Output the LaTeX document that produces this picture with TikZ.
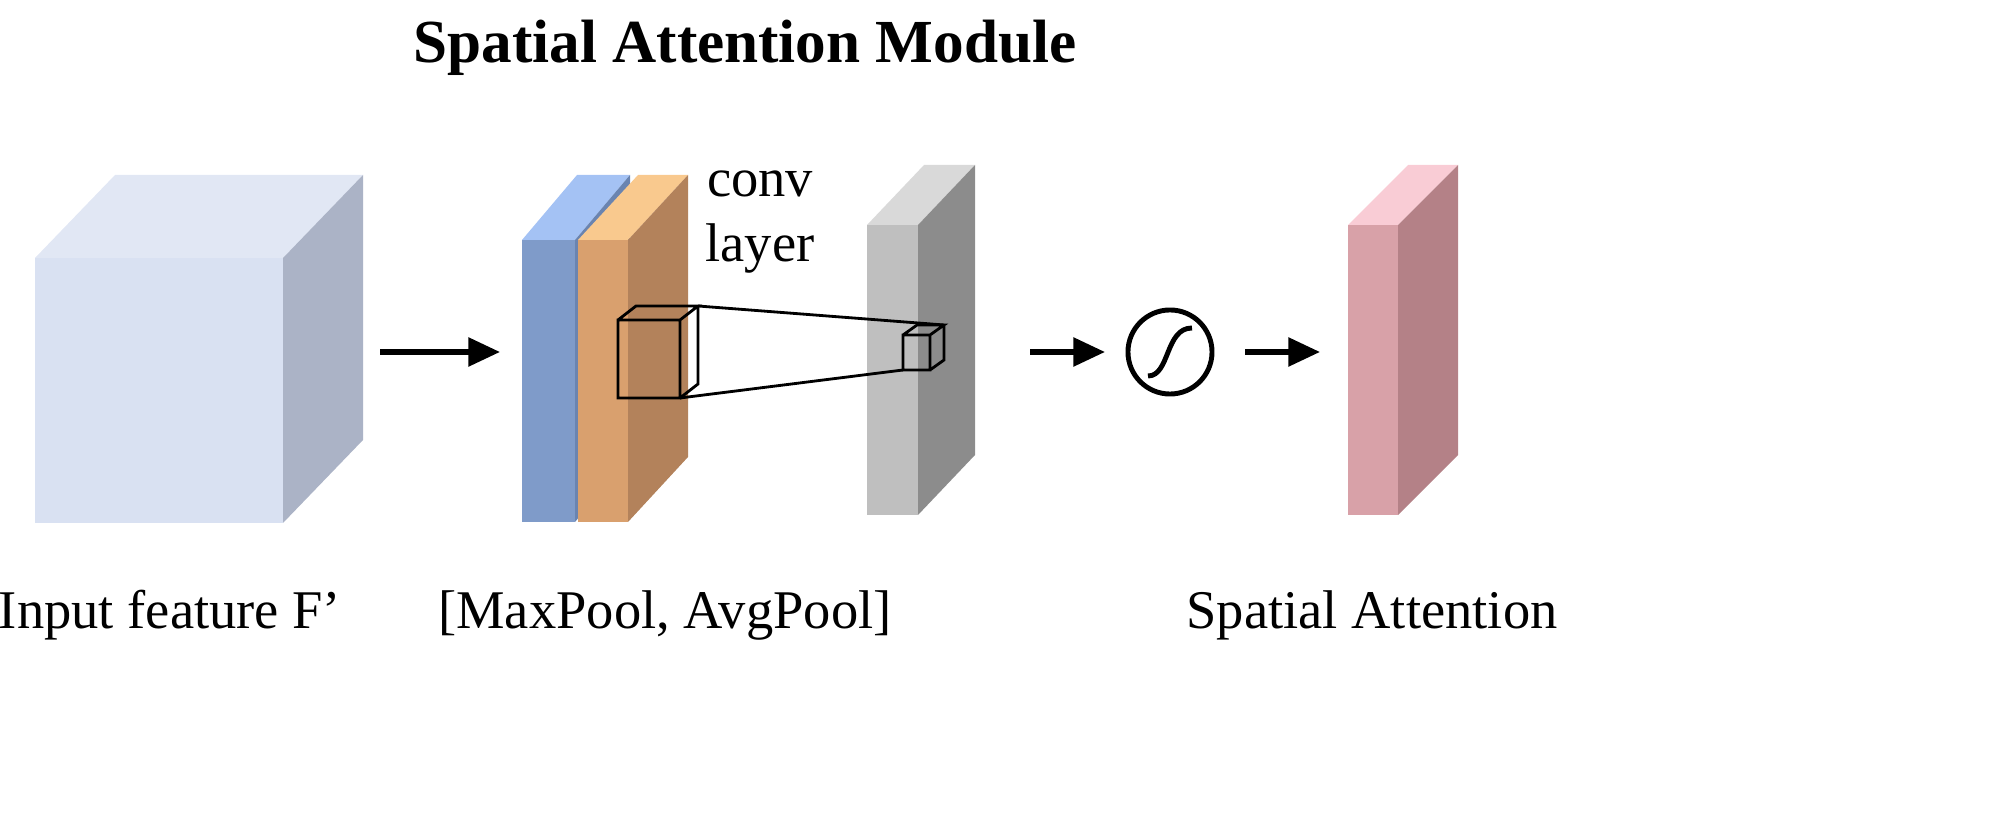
\documentclass[tikz,border=0pt]{standalone}
\usepackage{fontspec}
\setmainfont{Liberation Serif}
\usetikzlibrary{arrows.meta}
\definecolor{cubeF}{HTML}{D9E1F2}\definecolor{cubeT}{HTML}{E1E7F4}\definecolor{cubeS}{HTML}{ABB3C6}
\definecolor{bluF}{HTML}{7F9BC9}\definecolor{bluT}{HTML}{A4C2F4}\definecolor{bluS}{HTML}{6A84B0}
\definecolor{orF}{HTML}{D9A06E}\definecolor{orT}{HTML}{F9C98E}\definecolor{orS}{HTML}{B3825B}
\definecolor{grF}{HTML}{BFBFBF}\definecolor{grT}{HTML}{D9D9D9}\definecolor{grS}{HTML}{8C8C8C}
\definecolor{pkF}{HTML}{D8A1A8}\definecolor{pkT}{HTML}{F9CCD5}\definecolor{pkS}{HTML}{B48187}
\tikzset{arr/.style={-{Stealth[length=9pt,width=8pt,inset=0pt]},line width=1.5pt},
 lbl/.style={font=\fontsize{15.5}{18.5}\selectfont,inner sep=0},
 edge/.style={line width=0.8pt}}
\newcommand{\slab}[9]{% x1 x2 ytop ybot dx dy top front side
 \fill[#7] (#1,#3) -- (#1+#5,#3-#6) -- (#2+#5,#3-#6) -- (#2,#3) -- cycle;
 \fill[#9] (#2,#3) -- (#2+#5,#3-#6) -- (#2+#5,#4-#6) -- (#2,#4) -- cycle;
 \fill[#8] (#1,#3) rectangle (#2,#4);}
\begin{document}
\begin{tikzpicture}[x=0.01cm,y=-0.01cm]
\useasboundingbox (0,0) rectangle (2005,816);
\node[font=\fontsize{17.4}{21}\selectfont\bfseries] (title) at (745,48) {Spatial Attention Module};
% input cube
\slab{35}{283}{258}{523}{80}{83}{cubeT}{cubeF}{cubeS}
% blue & orange
\slab{522}{575}{240}{522}{55}{65}{bluT}{bluF}{bluS}
\slab{578}{628}{240}{522}{60}{65}{orT}{orF}{orS}
% gray
\slab{867}{918}{225}{515}{57}{60}{grT}{grF}{grS}
% pink
\slab{1348}{1398}{225}{515}{60}{60}{pkT}{pkF}{pkS}
% small cubes
\coordinate (a1) at (618,320); \coordinate (a2) at (680,320); \coordinate (a3) at (680,398); \coordinate (a4) at (618,398);
\coordinate (b1) at (636,306); \coordinate (b2) at (698,306); \coordinate (b3) at (698,384);
\draw[edge] (a1) rectangle (a3) (a1)--(b1)--(b2)--(a2) (b2)--(b3)--(a3);
\coordinate (c1) at (903,335); \coordinate (c2) at (930,335); \coordinate (c3) at (930,370); \coordinate (c4) at (903,370);
\coordinate (d1) at (917,325); \coordinate (d2) at (944,325); \coordinate (d3) at (944,360);
\draw[edge] (c1) rectangle (c3) (c1)--(d1)--(d2)--(c2) (d2)--(d3)--(c3);
\draw[edge] (b2)--(d2) (a3)--(c4);
\node[lbl,align=center] (conv) at (760,222) {conv\\layer};
% arrows & sigmoid
\coordinate (p1) at (380,352); \coordinate (p2) at (500,352);
\draw[arr] (p1)--(p2);
\coordinate (q1) at (1030,352); \coordinate (q2) at (1105,352);
\draw[arr] (q1)--(q2);
\node[circle,draw,line width=1.4pt,minimum size=0.84cm,inner sep=0] (sig) at (1170,352) {};
\draw[line width=1.4pt] (1148,376) .. controls (1170,376) and (1165,328) .. (1192,328);
\coordinate (r1) at (1245,352); \coordinate (r2) at (1320,352);
\draw[arr] (r1)--(r2);
% labels
\node[lbl] (l1) at (170,615) {Input feature F’};
\node[lbl] (l2) at (665,615) {[MaxPool, AvgPool]};
\node[lbl] (l3) at (1372,615) {Spatial Attention};
\end{tikzpicture}
\end{document}
